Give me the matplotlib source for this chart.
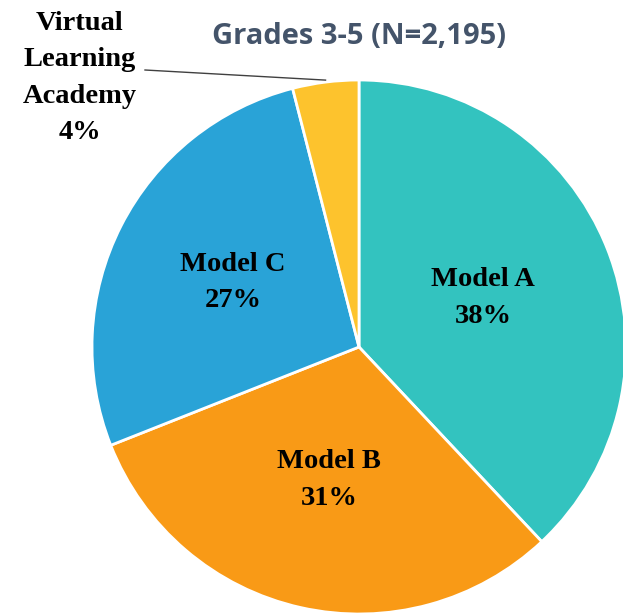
import matplotlib
matplotlib.use("Agg")
import matplotlib.pyplot as plt
import numpy as np

categories = ["Model A", "Model B", "Model C", "Virtual\nLearning\nAcademy"]
values = [38, 31, 27, 4]
colors = ["#33C3BF", "#F99A16", "#29A3D7", "#FDC32D"]
title = "Grades 3-5 (N=2,195)"

W, H = 623, 614
fig = plt.figure(figsize=(W / 100, H / 100), dpi=100)
ax = fig.add_axes([0, 0, 1, 1])

cx, cy, R = 359, H - 347, 267
wedges, _ = ax.pie(values, colors=colors, startangle=90, counterclock=False,
                   center=(cx, cy), radius=R, frame=True,
                   wedgeprops=dict(edgecolor="white", linewidth=2))
ax.set_xlim(0, W)
ax.set_ylim(0, H)
ax.set_aspect("equal")
ax.axis("off")

serif = dict(family="Liberation Serif", fontweight="bold", fontsize=20.5,
             color="black", ha="center", va="center", linespacing=1.6)

label_r = [0.50, 0.51, 0.53]
for w, name, v, lr in zip(wedges[:3], categories[:3], values[:3], label_r):
    ang = np.deg2rad((w.theta1 + w.theta2) / 2)
    ax.text(cx + lr * R * np.cos(ang), cy + lr * R * np.sin(ang),
            f"{name}\n{v}%", **serif)

# Virtual Learning Academy label outside with leader line
w = wedges[3]
ang = np.deg2rad((w.theta1 + w.theta2) / 2)
px, py = cx + R * np.cos(ang), cy + R * np.sin(ang)
ax.text(80, H - 78, f"{categories[3]}\n{values[3]}%", **serif)
ax.plot([145, px], [H - 70, py + 2], color="#404040", lw=1)

ax.text(cx, H - 36, title, family="Open Sans", fontweight="bold", fontsize=21,
        color="#44546A", ha="center", va="center")

fig.savefig("out.png", dpi=100)
